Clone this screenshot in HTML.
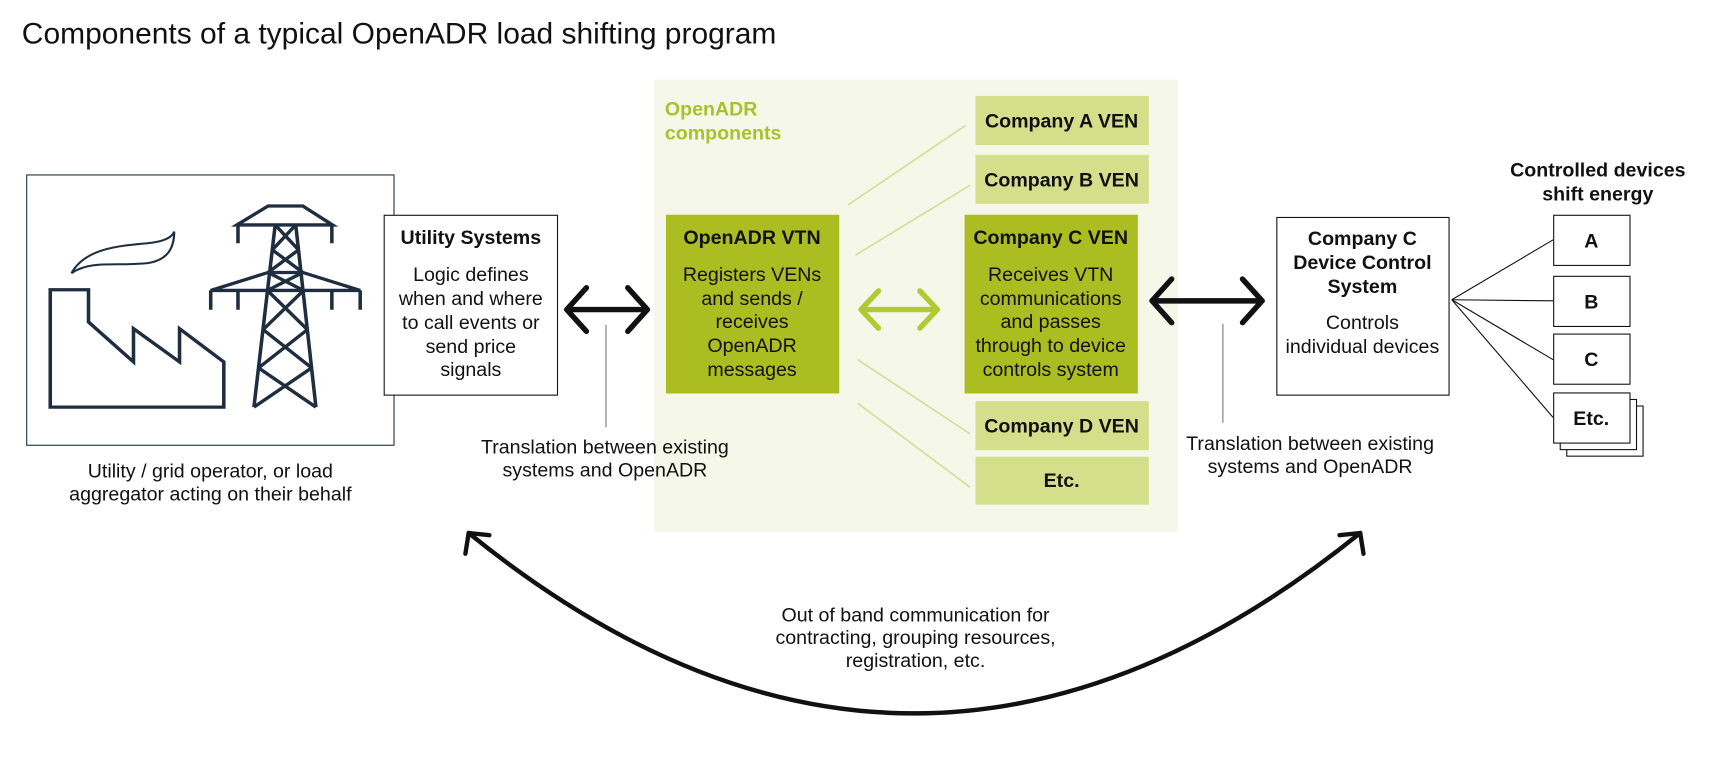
<!DOCTYPE html>
<html><head><meta charset="utf-8"><style>
html,body{margin:0;padding:0;background:#fff;}
svg{display:block;}
text{font-family:"Liberation Sans",Arial,sans-serif;}
</style></head><body>
<svg width="1709" height="780" viewBox="0 0 1568 715.6" xmlns="http://www.w3.org/2000/svg">
<rect x="0" y="0" width="1568" height="716" fill="#fff"/>
<text x="20" y="40" font-size="27.5" fill="#111">Components of a typical OpenADR load shifting program</text>

<rect x="600" y="73" width="481" height="415" fill="#f5f8e8"/>
<text x="610" y="106" font-size="18" font-weight="bold" fill="#a9c12a">OpenADR</text>
<text x="610" y="128" font-size="18" font-weight="bold" fill="#a9c12a">components</text>

<rect x="24.5" y="160.5" width="337" height="248" fill="#fff" stroke="#1e2d40" stroke-width="1"/>
<g transform="translate(24,160) scale(0.325,0.305)" fill="none" stroke="#1e2d40" stroke-width="10" stroke-linejoin="miter">
  <path d="M68,347 L176,347 L176,444 L303,564 L303,464 L433,564 L433,464 L558,564 L558,700 L68,700 Z"/>
  <path d="M128,297 C165,225 255,215 343,207 C393,202 413,187 418,172 C418,217 403,257 343,267 C253,277 183,257 128,297 Z" stroke-width="6"/>
  <path d="M595,152 L683,95 L781,95 L865,152 Z"/>
  <path d="M598,152 L598,207 M863,152 L863,207"/>
  <path d="M521,349 L683,295 L781,295 L943,349 Z"/>
  <path d="M521,349 L521,407 M598,349 L598,407 M863,349 L863,407 M943,349 L943,407"/>
  <path d="M703,152 L643,700 M761,152 L818,700"/>
  <path d="M703,152 L769,227 M761,152 L695,227 M695,227 L781,295 M769,227 L683,295 M683,295 L783,349 M781,295 L681,349 M681,349 L794,467 M783,349 L669,467 M669,467 L806,582 M794,467 L656,582 M656,582 L818,700 M806,582 L643,700"/>
</g>
<text x="193" y="438" font-size="18" fill="#111" text-anchor="middle">Utility / grid operator, or load</text>
<text x="193" y="459" font-size="18" fill="#111" text-anchor="middle">aggregator acting on their behalf</text>

<rect x="352.5" y="197.5" width="159" height="165" fill="#fff" stroke="#111" stroke-width="1"/>
<g font-size="18" fill="#111" text-anchor="middle">
<text x="432" y="224" font-weight="bold">Utility Systems</text>
<text x="432" y="258">Logic defines</text>
<text x="432" y="280">when and where</text>
<text x="432" y="302">to call events or</text>
<text x="432" y="324">send price</text>
<text x="432" y="345">signals</text>
</g>

<g stroke="#111" stroke-width="5" fill="none" stroke-linecap="round" stroke-linejoin="round">
<path d="M520,284 L594,284 M538,264 L520,284 L538,304 M576,264 L594,284 L576,304"/>
<path d="M1057,276 L1158,276 M1075,256 L1057,276 L1075,296 M1140,256 L1158,276 L1140,296"/>
</g>
<line x1="556" y1="298" x2="556" y2="392" stroke="#777" stroke-width="1"/>
<line x1="1122" y1="297" x2="1122" y2="388" stroke="#777" stroke-width="1"/>
<g font-size="18" fill="#111" text-anchor="middle">
<text x="555" y="416">Translation between existing</text>
<text x="555" y="437">systems and OpenADR</text>
<text x="1202" y="413">Translation between existing</text>
<text x="1202" y="434">systems and OpenADR</text>
</g>

<g stroke="#d3e09a" stroke-width="1.6">
<line x1="778" y1="188" x2="886" y2="115"/>
<line x1="785" y1="234" x2="890" y2="170"/>
<line x1="787" y1="330" x2="890" y2="398"/>
<line x1="787" y1="370" x2="890" y2="447"/>
</g>

<rect x="611" y="197" width="159" height="164" fill="#abbd20"/>
<g font-size="18" fill="#111" text-anchor="middle">
<text x="690" y="224" font-weight="bold">OpenADR VTN</text>
<text x="690" y="258">Registers VENs</text>
<text x="690" y="280">and sends /</text>
<text x="690" y="301">receives</text>
<text x="690" y="323">OpenADR</text>
<text x="690" y="345">messages</text>
</g>

<g stroke="#b2c933" stroke-width="5" fill="none" stroke-linecap="round" stroke-linejoin="round">
<path d="M790,284 L860,284 M806,267 L790,284 L806,301 M844,267 L860,284 L844,301"/>
</g>

<rect x="885" y="197" width="159" height="164" fill="#abbd20"/>
<g font-size="18" fill="#111" text-anchor="middle">
<text x="964" y="224" font-weight="bold">Company C VEN</text>
<text x="964" y="258">Receives VTN</text>
<text x="964" y="280">communications</text>
<text x="964" y="301">and passes</text>
<text x="964" y="323">through to device</text>
<text x="964" y="345">controls system</text>
</g>

<g fill="#d4df8c">
<rect x="895" y="88" width="159" height="45"/>
<rect x="895" y="142" width="159" height="45"/>
<rect x="895" y="368" width="159" height="45"/>
<rect x="895" y="419" width="159" height="44"/>
</g>
<g font-size="18" font-weight="bold" fill="#111" text-anchor="middle">
<text x="974" y="117">Company A VEN</text>
<text x="974" y="171">Company B VEN</text>
<text x="974" y="397">Company D VEN</text>
<text x="974" y="447">Etc.</text>
</g>

<rect x="1171.5" y="199.5" width="158" height="163" fill="#fff" stroke="#111" stroke-width="1"/>
<g font-size="18" fill="#111" text-anchor="middle">
<text x="1250" y="225" font-weight="bold">Company C</text>
<text x="1250" y="247" font-weight="bold">Device Control</text>
<text x="1250" y="269" font-weight="bold">System</text>
<text x="1250" y="302">Controls</text>
<text x="1250" y="324">individual devices</text>
</g>

<g font-size="18" font-weight="bold" fill="#111" text-anchor="middle">
<text x="1466" y="162">Controlled devices</text>
<text x="1466" y="184">shift energy</text>
</g>
<g stroke="#111" stroke-width="1" fill="none">
<line x1="1332" y1="275" x2="1425" y2="220"/>
<line x1="1332" y1="275" x2="1425" y2="276"/>
<line x1="1332" y1="275" x2="1425" y2="330"/>
<line x1="1332" y1="275" x2="1425" y2="383"/>
</g>
<g stroke="#111" stroke-width="1" fill="#fff">
<rect x="1437.5" y="372.5" width="70" height="46"/>
<rect x="1431.5" y="366.5" width="70" height="46"/>
<rect x="1425.5" y="360.5" width="70" height="46"/>
<rect x="1425.5" y="197.5" width="70" height="46"/>
<rect x="1425.5" y="253.5" width="70" height="46"/>
<rect x="1425.5" y="306.5" width="70" height="46"/>
</g>
<g font-size="18" font-weight="bold" fill="#111" text-anchor="middle">
<text x="1460" y="227">A</text>
<text x="1460" y="283">B</text>
<text x="1460" y="336">C</text>
<text x="1460" y="390">Etc.</text>
</g>

<g stroke="#111" stroke-width="4" fill="none" stroke-linecap="round" stroke-linejoin="round">
<path d="M430,489 Q838,820 1248,489"/>
<path d="M427,508 L430,489 L449,491"/>
<path d="M1229,491 L1248,489 L1251,508"/>
</g>
<g font-size="18" fill="#111" text-anchor="middle">
<text x="840" y="570">Out of band communication for</text>
<text x="840" y="591">contracting, grouping resources,</text>
<text x="840" y="612">registration, etc.</text>
</g>
</svg>
</body></html>
